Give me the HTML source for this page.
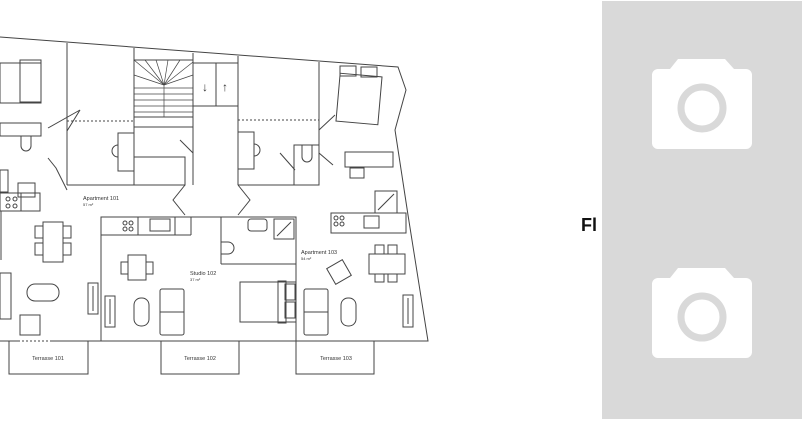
<!DOCTYPE html>
<html><head><meta charset="utf-8"><style>
html,body{margin:0;padding:0;background:#fff;width:802px;height:421px;overflow:hidden;position:relative;font-family:"Liberation Sans",sans-serif}
.panel{position:absolute;left:602px;top:1px;width:200px;height:418px;background:#d9d9d9}
.fl{position:absolute;left:581px;top:215px;font-size:18px;font-weight:bold;color:#111}
</style></head><body>
<svg width="602" height="421" style="position:absolute;left:0;top:0" fill="none" stroke="#444" stroke-width="1">
<!-- outer -->
<polyline points="0,37 398,67 406,90 395,130 408,215 428,341 0,341"/>
<!-- top vertical walls -->
<line x1="67" y1="43" x2="67" y2="185"/>
<line x1="134" y1="48" x2="134" y2="185"/>
<line x1="193" y1="53" x2="193" y2="153"/>
<line x1="238" y1="56" x2="238" y2="185"/>
<line x1="319" y1="62" x2="319" y2="185"/>
<line x1="67" y1="185" x2="185" y2="185"/>
<line x1="238" y1="185" x2="295" y2="185"/>
<line x1="67" y1="121" x2="134" y2="121" stroke-dasharray="2,2"/>
<line x1="238" y1="120" x2="319" y2="120" stroke-dasharray="2,2"/>
<line x1="67" y1="60" x2="67" y2="120" stroke-dasharray="2,2"/>
<!-- stair -->
<rect x="134" y="60" width="59" height="57"/>
<g stroke-width="0.7">
<line x1="164" y1="85" x2="134" y2="60"/><line x1="164" y1="85" x2="145" y2="60"/><line x1="164" y1="85" x2="156" y2="60"/><line x1="164" y1="85" x2="168" y2="60"/><line x1="164" y1="85" x2="180" y2="60"/><line x1="164" y1="85" x2="193" y2="62"/><line x1="164" y1="85" x2="193" y2="75"/><line x1="164" y1="85" x2="134" y2="75"/>
<line x1="134" y1="88" x2="193" y2="88"/><line x1="134" y1="94" x2="193" y2="94"/><line x1="134" y1="100" x2="193" y2="100"/><line x1="134" y1="106" x2="193" y2="106"/><line x1="134" y1="112" x2="193" y2="112"/><line x1="164" y1="85" x2="164" y2="117"/>
</g>
<rect x="134" y="117" width="59" height="10"/>
<rect x="134" y="157" width="51" height="28"/>
<line x1="134" y1="127" x2="134" y2="185"/>
<!-- elevator -->
<rect x="193" y="63" width="45" height="43"/><line x1="216" y1="63" x2="216" y2="106"/>
<text x="202" y="91" font-size="12" fill="#333" stroke="none">↓</text><text x="222" y="91" font-size="12" fill="#333" stroke="none">↑</text>
<!-- sinks -->
<rect x="118" y="133" width="16" height="38"/><path d="M118,145 a6,6 0 0 0 0,12"/>
<rect x="238" y="132" width="16" height="37"/><path d="M254,144 a6,6 0 0 1 0,12"/>
<rect x="294" y="145" width="25" height="40"/><path d="M302,145 v12 a4,4 0 0 0 10,0 v-12"/>
<rect x="20" y="60" width="21" height="42"/>
<rect x="0" y="63" width="41" height="40"/>
<!-- doors top -->
<path d="M67,131 L80,110 L48,128 M48,158 L56,168 L67,190" stroke-dasharray="0"/>
<path d="M193,153 L180,140 M193,153 L193,185 M185,185 L173,200 L185,215"/>
<path d="M238,185 L250,200 L238,215 M280,153 L295,170 M319,130 L335,115 M319,153 L333,165"/>
<!-- bed top right -->
<rect x="338" y="75" width="42" height="48" transform="rotate(5 359 99)"/>
<rect x="340" y="66" width="16" height="10"/><rect x="361" y="67" width="16" height="10"/>
<rect x="345" y="152" width="48" height="15"/><rect x="350" y="168" width="14" height="10"/>
<rect x="375" y="191" width="22" height="22"/><line x1="378" y1="210" x2="394" y2="194"/>
<!-- left side items -->
<rect x="0" y="123" width="41" height="13"/>
<path d="M21,136 v10 a5,5 0 0 0 10,0 v-10"/>
<rect x="0" y="170" width="8" height="22"/>
<rect x="18" y="183" width="17" height="14"/>
<rect x="0" y="193" width="40" height="18"/><line x1="21" y1="193" x2="21" y2="211"/>
<circle cx="8" cy="199" r="2"/><circle cx="15" cy="199" r="2"/><circle cx="8" cy="206" r="2"/><circle cx="15" cy="206" r="2"/>
<line x1="1" y1="211" x2="1" y2="260"/>
<rect x="43" y="222" width="20" height="40"/>
<rect x="35" y="226" width="8" height="12"/><rect x="35" y="243" width="8" height="12"/><rect x="63" y="226" width="8" height="12"/><rect x="63" y="243" width="8" height="12"/>
<rect x="0" y="273" width="11" height="46"/>
<rect x="27" y="284" width="32" height="17" rx="8"/>
<rect x="20" y="315" width="20" height="20"/>
<rect x="88" y="283" width="10" height="31"/><line x1="93" y1="286" x2="93" y2="311"/>
<!-- studio -->
<rect x="101" y="217" width="195" height="124"/>
<line x1="101" y1="235" x2="191" y2="235"/><line x1="191" y1="217" x2="191" y2="235"/><line x1="175" y1="217" x2="175" y2="235"/><line x1="138" y1="217" x2="138" y2="235"/>
<circle cx="125" cy="223" r="2"/><circle cx="131" cy="223" r="2"/><circle cx="125" cy="229" r="2"/><circle cx="131" cy="229" r="2"/>
<rect x="150" y="219" width="20" height="12"/>
<line x1="221" y1="217" x2="221" y2="264"/><line x1="221" y1="264" x2="296" y2="264"/>
<rect x="248" y="219" width="19" height="12" rx="3"/><rect x="274" y="219" width="20" height="20"/><line x1="277" y1="236" x2="291" y2="222"/>
<path d="M221,242 h7 a6,6 0 0 1 0,12 h-7"/>
<rect x="128" y="255" width="18" height="25"/><rect x="121" y="262" width="7" height="12"/><rect x="146" y="262" width="7" height="12"/>
<rect x="105" y="296" width="10" height="31"/><line x1="110" y1="299" x2="110" y2="324"/>
<rect x="134" y="298" width="15" height="28" rx="7"/>
<rect x="160" y="289" width="24" height="46" rx="2"/><line x1="160" y1="312" x2="184" y2="312"/>
<rect x="240" y="282" width="56" height="40"/><rect x="278" y="281" width="8" height="42"/><rect x="285" y="284" width="10" height="16"/><rect x="285" y="302" width="10" height="16"/>
<!-- apt 103 -->
<rect x="331" y="213" width="75" height="20"/><rect x="364" y="216" width="15" height="12"/>
<circle cx="336" cy="218" r="2"/><circle cx="342" cy="218" r="2"/><circle cx="336" cy="224" r="2"/><circle cx="342" cy="224" r="2"/>
<rect x="369" y="254" width="36" height="20"/><rect x="375" y="245" width="9" height="9"/><rect x="388" y="245" width="9" height="9"/><rect x="375" y="274" width="9" height="8"/><rect x="388" y="274" width="9" height="8"/>
<rect x="330" y="263" width="18" height="18" transform="rotate(-30 339 272)"/>
<rect x="304" y="289" width="24" height="46" rx="2"/><line x1="304" y1="312" x2="328" y2="312"/>
<rect x="341" y="298" width="15" height="28" rx="7"/>
<rect x="403" y="295" width="10" height="32"/><line x1="408" y1="298" x2="408" y2="324"/>
<!-- bottom dashed -->
<line x1="20" y1="341" x2="50" y2="341" stroke="#fff" stroke-dasharray="2,2"/>
<!-- terraces -->
<polyline points="9,341 9,374 88,374 88,341"/>
<polyline points="161,341 161,374 239,374 239,341"/>
<polyline points="296,341 296,374 374,374 374,341"/>
<g fill="#333" stroke="none" font-family="Liberation Sans, sans-serif">
<text x="83" y="200" font-size="5.5">Apartment 101</text><text x="83" y="206" font-size="4">57 m²</text>
<text x="190" y="275" font-size="5.5">Studio 102</text><text x="190" y="281" font-size="4">37 m²</text>
<text x="301" y="254" font-size="5.5">Apartment 103</text><text x="301" y="260" font-size="4">54 m²</text>
<text x="48" y="360" font-size="5.5" text-anchor="middle">Terrasse 101</text>
<text x="200" y="360" font-size="5.5" text-anchor="middle">Terrasse 102</text>
<text x="336" y="360" font-size="5.5" text-anchor="middle">Terrasse 103</text>
</g>
</svg>
<div class="fl">Fl</div>
<div class="panel">
<svg width="200" height="418" style="position:absolute;left:0;top:0">
<g fill="#fff"><path d="M76,58 h47 l9,10 h12 a6,6 0 0 1 6,6 v68 a6,6 0 0 1 -6,6 h-88 a6,6 0 0 1 -6,-6 v-68 a6,6 0 0 1 6,-6 h12 z"/>
<path d="M76,267 h47 l9,10 h12 a6,6 0 0 1 6,6 v68 a6,6 0 0 1 -6,6 h-88 a6,6 0 0 1 -6,-6 v-68 a6,6 0 0 1 6,-6 h12 z"/></g>
<circle cx="100" cy="107" r="21" fill="none" stroke="#d9d9d9" stroke-width="7"/>
<circle cx="100" cy="316" r="21" fill="none" stroke="#d9d9d9" stroke-width="7"/>
</svg>
</div>
</body></html>
